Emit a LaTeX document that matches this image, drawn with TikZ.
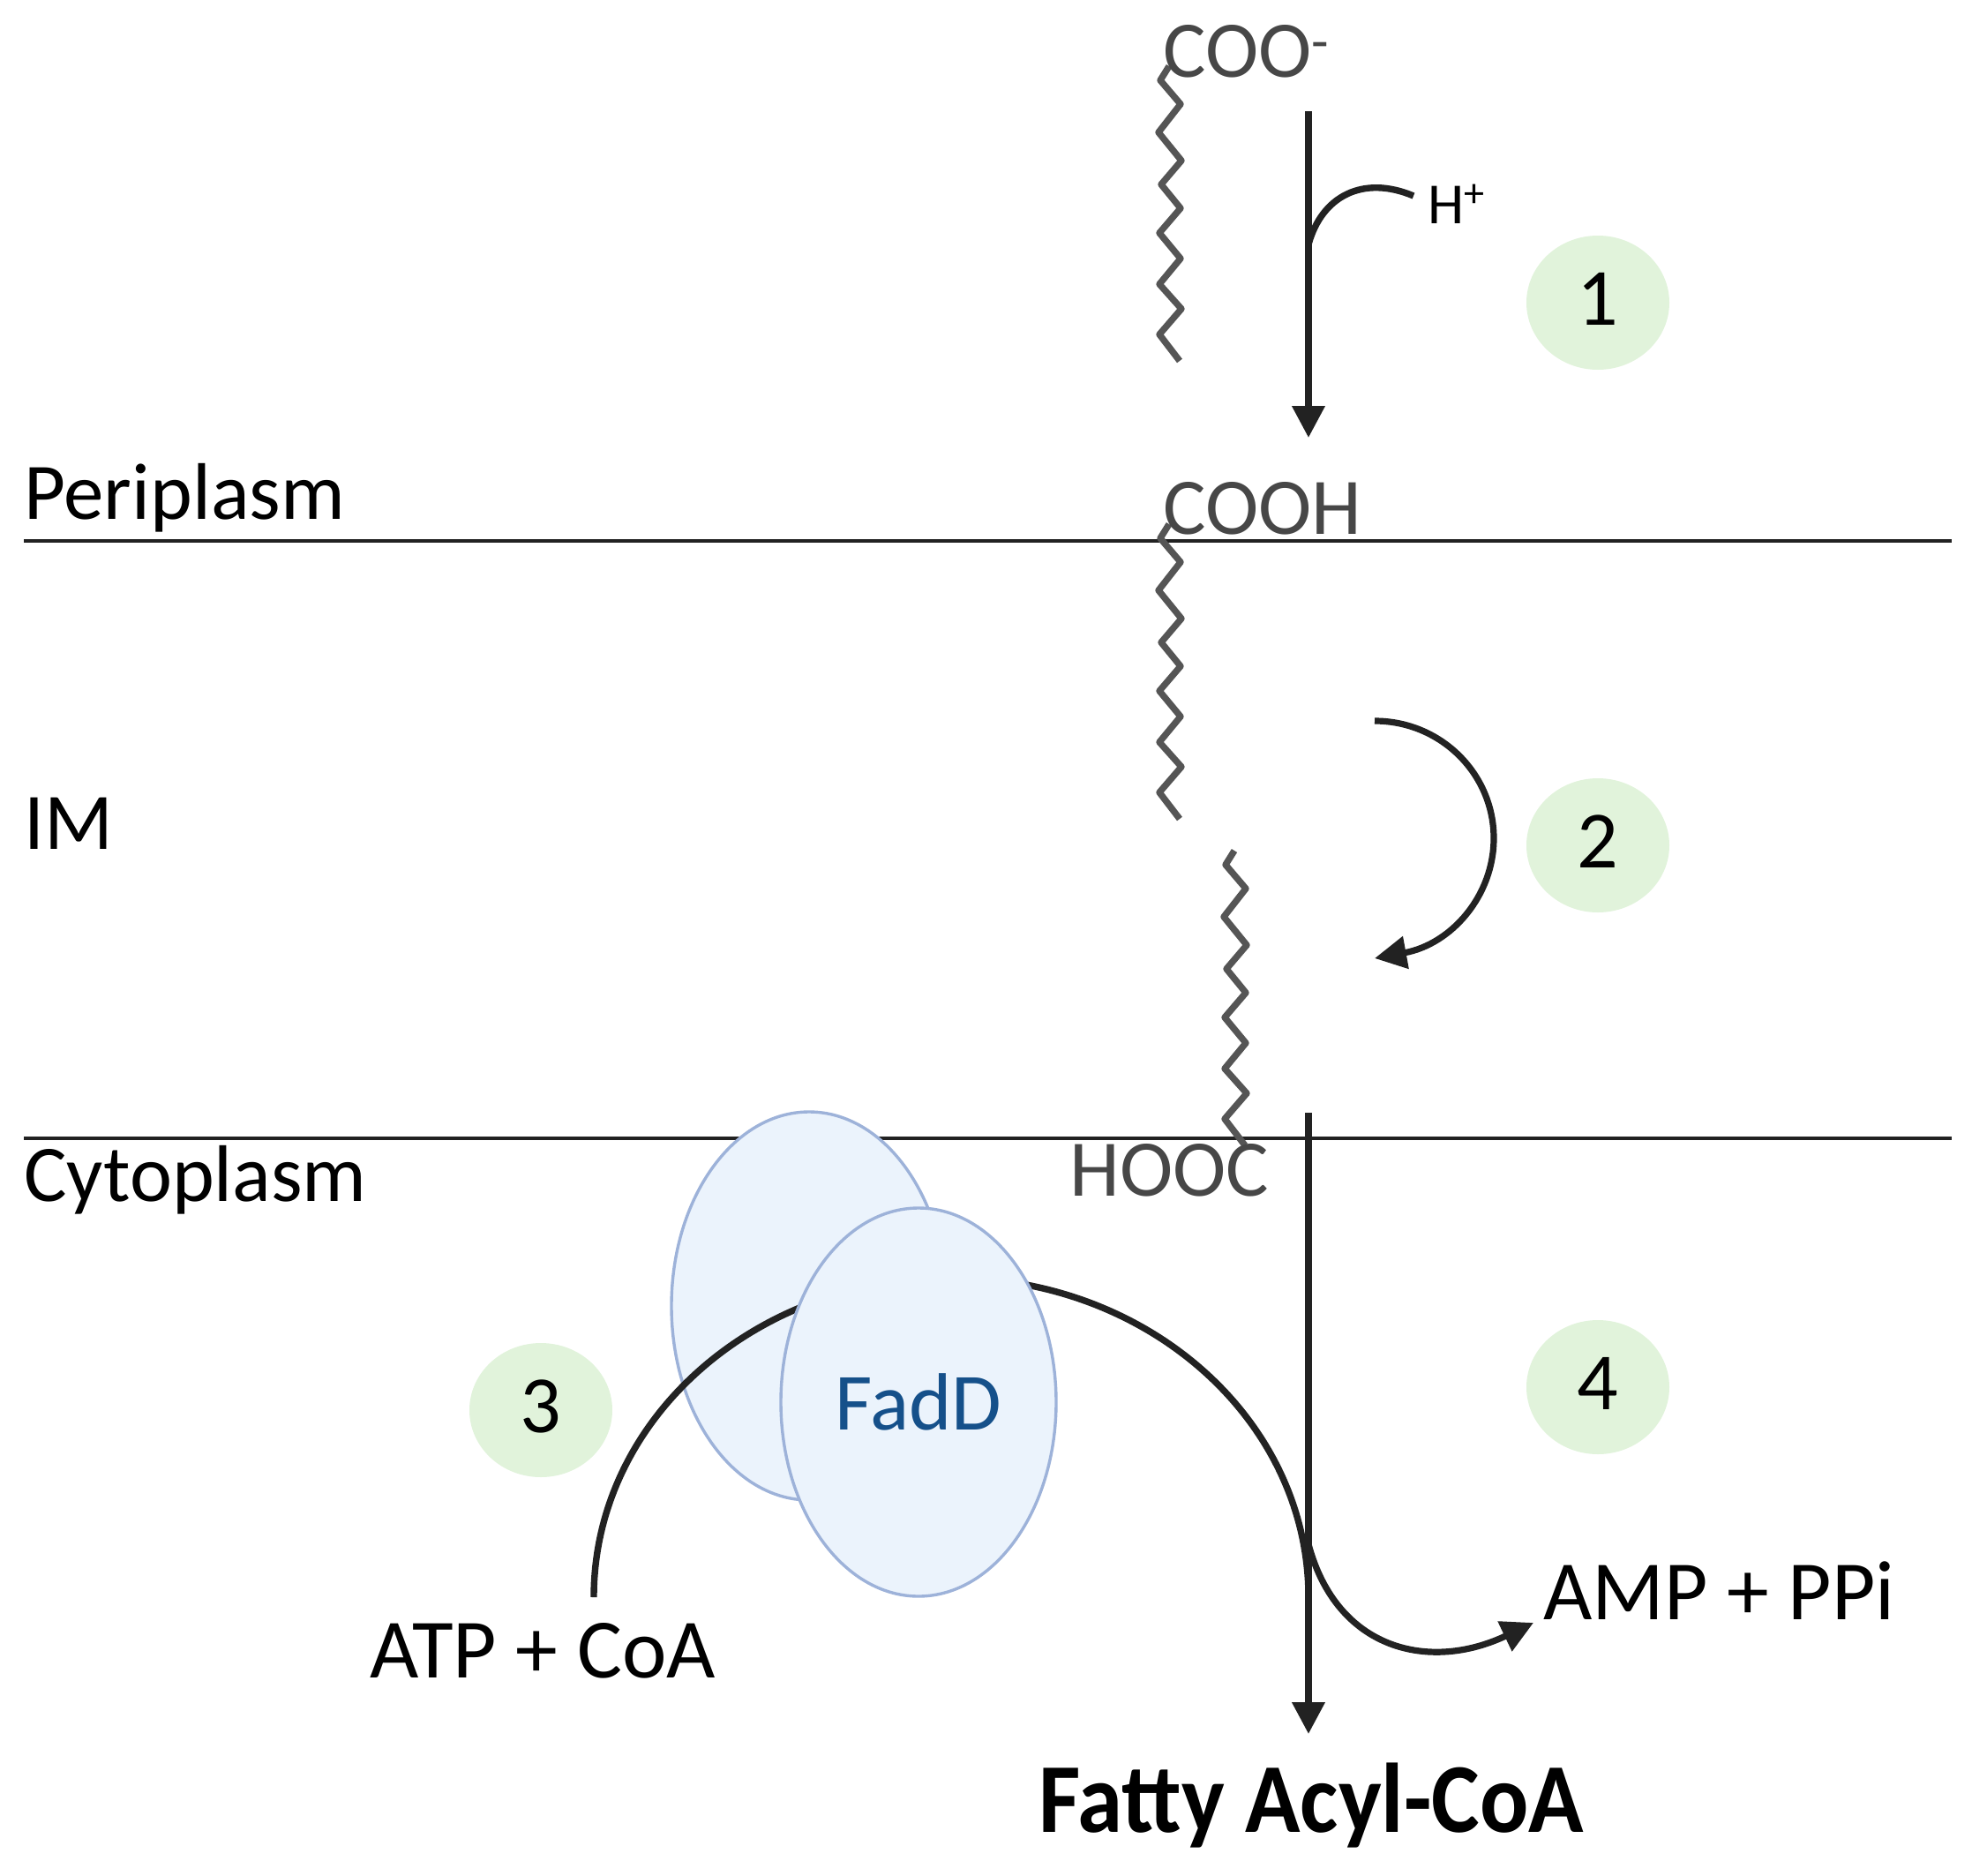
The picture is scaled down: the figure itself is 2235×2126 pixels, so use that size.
\documentclass[tikz,border=0pt]{standalone}
\usepackage{fontspec}
\setmainfont{Carlito}
\usepackage{xcolor}
\usetikzlibrary{arrows.meta,shapes.geometric}

\definecolor{inkdark}{HTML}{222222}
\definecolor{chaingrey}{HTML}{555555}
\definecolor{chemgrey}{HTML}{474747}
\definecolor{stepgreen}{HTML}{E1F3DB}
\definecolor{enzfill}{HTML}{EBF3FC}
\definecolor{enzline}{HTML}{9DB2D9}
\definecolor{enztext}{HTML}{15508A}

\newcommand{\acylchain}{(1325,75) -- (1315,91) -- (1338,118) -- (1313,150) -- (1339,182) -- (1316,209) -- (1338,236) -- (1314,264) -- (1338,293) -- (1314,322) -- (1339,350) -- (1314,379) -- (1337,409)}

\tikzset{
	flow/.style={draw=inkdark,line width=3.6pt,-{Triangle[length=18pt,width=18pt]}},
	plainflow/.style={draw=inkdark,line width=3.7pt},
	membrane/.style={draw=inkdark,line width=1.8pt},
	acylline/.style={draw=chaingrey,line width=3.7pt,line join=round},
	lbl/.style={anchor=base west,inner sep=0pt,font=\fontsize{45.5}{52}\selectfont},
	chem/.style={lbl,text=chemgrey,font=\fontsize{45.5}{52}\selectfont},
	stepmark/.style={shape=ellipse,fill=stepgreen,inner sep=0pt,text depth=4pt,minimum width=81pt,minimum height=76pt,font=\fontsize{46}{52}\selectfont},
	enzyme/.style={shape=ellipse,fill=enzfill,draw=enzline,line width=1.7pt,inner sep=0pt,minimum width=156pt,minimum height=220pt}
}

\begin{document}
\begin{tikzpicture}[x=0.5pt,y=-0.5pt]
	\useasboundingbox (0,0) rectangle (2235,2126);
	% compartments
	\coordinate (peri-l) at (27,613);
	\coordinate (peri-r) at (2212,613);
	\coordinate (cyto-l) at (27,1290);
	\coordinate (cyto-r) at (2212,1290);
	\path[membrane]
	(peri-l) edge (peri-r)
	(cyto-l) edge (cyto-r);
	\node[lbl] (periplasm) at (27,588) {Periplasm};
	\node[lbl] (im) at (27,962) {IM};
	\node[lbl] (cytoplasm) at (27,1361) {Cytoplasm};
	%
	\node[stepmark] (s1) at (1811,343) {1};
	\node[stepmark] (s2) at (1811,958) {2};
	\node[stepmark] (s3) at (613,1598) {3};
	\node[stepmark] (s4) at (1811,1572) {4};
	%
	\foreach \dx/\dy in {0/0,0/519,74/889}
	\draw[acylline,shift={(\dx,\dy)}] \acylchain;
	\node[chem] (coo) at (1318,87) {COO\textsuperscript{-}};
	\node[chem] (cooh) at (1318,605) {COOH};
	\node[chem] (hooc) at (1212,1355) {HOOC};
	\node[lbl,font=\fontsize{33}{40}\selectfont] (hplus) at (1618,253) {H\textsuperscript{+}};
	\node[lbl,font=\fontsize{47.8}{54}\selectfont] (amp) at (1749,1835) {AMP + PPi};
	\node[lbl,font=\fontsize{47.8}{54}\selectfont] (atp) at (419,1901) {ATP + CoA};
	\node[lbl,font=\fontsize{56}{64}\bfseries\selectfont] (acyl) at (1177,2076) {\scalebox{0.92}[1]{Fatty Acyl-CoA}};
	%
	\coordinate (a1) at (1483,126);
	\coordinate (b1) at (1483,496);
	\coordinate (j1) at (1483,277);
	\coordinate (h1) at (1602,222);
	\coordinate (a2) at (1558,817);
	\coordinate (b2) at (1558,1086);
	\coordinate (a4) at (1483,1261);
	\coordinate (b4) at (1483,1965);
	\coordinate (j3) at (1483,1750);
	\coordinate (c3) at (673,1810);
	\coordinate (d3) at (1483,1810);
	\coordinate (e3) at (1738,1839);
	%
	\path
	(a1) edge[flow] (b1)
	(a4) edge[flow] (b4);
	\draw[plainflow] (j1) .. controls (1498,222) and (1545,198) .. (h1);
	\draw[flow] (a2) .. controls (1633,817) and (1693,877) .. (1693,950) .. controls (1693,1015) and (1645,1070) .. (b2);
	\draw[flow] (j3) .. controls (1515,1870) and (1620,1895) .. (e3);
	%
	\node[enzyme] (fad-back) at (917,1480) {};
	\draw[plainflow] (c3) .. controls (673,1610) and (854,1448) .. (1078,1448) .. controls (1302,1448) and (1483,1610) .. (d3);
	\node[enzyme,text=enztext,font=\fontsize{46}{52}\selectfont] (fad-front) at (1041,1589) {FadD};
\end{tikzpicture}
\end{document}
